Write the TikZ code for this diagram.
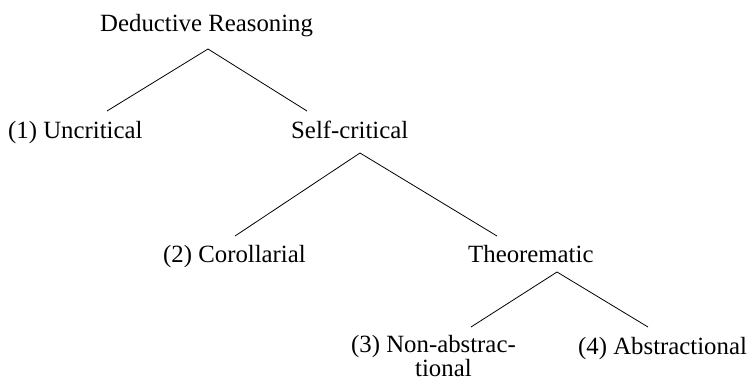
\documentclass[tikz,border=0pt]{standalone}
\usepackage{fontspec}
\setmainfont{Liberation Serif}
\begin{document}
\begin{tikzpicture}[x=1pt,y=-1pt,
  lbl/.style={inner sep=0pt,anchor=base west,font=\fontsize{24.8}{22}\selectfont},
  edge/.style={draw,line width=0.8pt}]
\useasboundingbox (0,0) rectangle (750,381);
\node[lbl] (root) at (100,31) {Deductive Reasoning};
\node[lbl] (unc) at (8,138) {(1) Uncritical};
\node[lbl] (self) at (291,138) {Self-critical};
\node[lbl] (cor) at (163,262) {(2) Corollarial};
\node[lbl] (theo) at (468,262) {Theorematic};
\node[lbl,align=left] (non) at (351,376) {(3) Non-abstrac-\\\hspace*{64pt}tional};
\node[lbl] (abs) at (578,354) {(4) Abstractional};
\coordinate (rootA) at (208,49);
\coordinate (uncT) at (107,111);
\coordinate (selfT) at (307,111);
\coordinate (selfA) at (360,153);
\coordinate (corT) at (235,236);
\coordinate (theoT) at (497,236);
\coordinate (theoA) at (557,272);
\coordinate (nonT) at (471,327);
\coordinate (absT) at (648,327);
\draw[edge] (uncT) -- (rootA) -- (selfT);
\draw[edge] (corT) -- (selfA) -- (theoT);
\draw[edge] (nonT) -- (theoA) -- (absT);
\end{tikzpicture}
\end{document}
